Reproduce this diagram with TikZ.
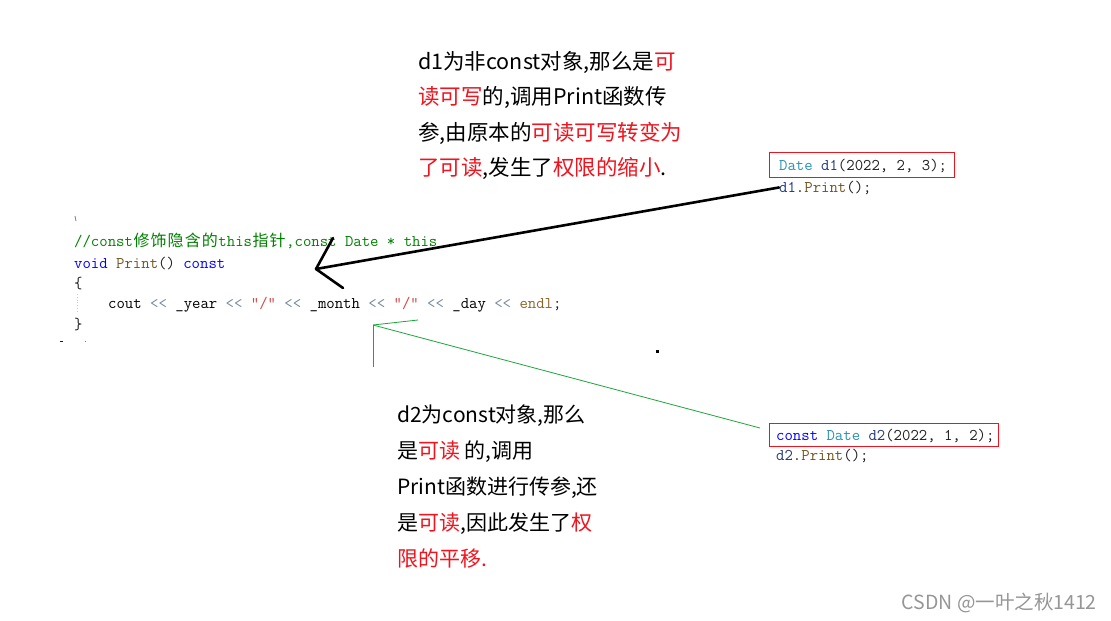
\documentclass[tikz,border=0pt]{standalone}
\usepackage{fontspec}
\newfontfamily\zh{Noto Sans CJK SC}
\newfontfamily\cmzh{Noto Sans CJK SC}
\newcommand\cz[1]{\makebox[17.1pt]{\cmzh\fontsize{16pt}{18pt}\selectfont #1}}
\definecolor{cgreen}{RGB}{0,128,0}
\definecolor{cblue}{RGB}{0,0,255}
\definecolor{cfunc}{RGB}{116,83,31}
\definecolor{cop}{RGB}{120,140,160}
\definecolor{cstr}{RGB}{210,70,70}
\definecolor{cendl}{RGB}{140,100,40}
\definecolor{ctype}{RGB}{43,145,175}
\definecolor{cred}{RGB}{240,20,30}
\definecolor{garrow}{RGB}{30,165,60}
\definecolor{cdark}{RGB}{30,30,30}
\definecolor{cvar}{RGB}{31,55,127}
\definecolor{wmark}{RGB}{150,150,150}
\begin{document}
\begin{tikzpicture}[x=1pt,y=-1pt,
  code/.style={anchor=base west,inner sep=0pt,font=\ttfamily\fontsize{16.3pt}{18pt}\selectfont},
  txt/.style={anchor=base west,inner sep=0pt,font=\zh\fontsize{21.5pt}{24pt}\selectfont},
  txtb/.style={txt,font=\zh\fontsize{21pt}{24pt}\selectfont},
  redbox/.style={draw=cred,line width=1.2pt,inner sep=0pt,anchor=north west},
  blk/.style={line width=2.6pt,line cap=round,line join=round},
  gline/.style={draw=garrow,line width=0.8pt}]
\fill[white] (0,0) rectangle (1111,621);
\useasboundingbox (0,0) rectangle (1111,621);
% top explanation
\node[txt] (t1) at (418,69) {d1为非const对象,那么是\textcolor{cred}{可}};
\node[txt] (t2) at (418,104.5) {\textcolor{cred}{读可写}的,调用Print函数传};
\node[txt] (t3) at (418,140.5) {参,由原本的\textcolor{cred}{可读可写转变为}};
\node[txt] (t4) at (418,175.5) {\textcolor{cred}{了可读},发生了\textcolor{cred}{权限的缩小}.};
% bottom explanation
\node[txtb] (s1) at (397,422) {d2为const对象,那么};
\node[txtb] (s2) at (397,458) {是\textcolor{cred}{可读} 的,调用};
\node[txtb] (s3) at (397,494) {Print函数进行传参,还};
\node[txtb] (s4) at (397,530.5) {是\textcolor{cred}{可读},因此发生了\textcolor{cred}{权}};
\node[txtb] (s5) at (397,566.5) {\textcolor{cred}{限的平移.}};
% left code
\node[code] (c1) at (74,246) {\color{cgreen}//const\cz{修}\cz{饰}\cz{隐}\cz{含}\cz{的}this\cz{指}\cz{针},const Date * this};
\node[code] (c2) at (74,268) {\color{cblue}void \color{cfunc}Print\color{cdark}() \color{cblue}const};
\node[code] (c3) at (74,288) {\color{cdark}\{};
\node[code] (c4) at (108,308.5) {\color{black}cout \color{cop}<< \color{black}\_year \color{cop}<< \color{cstr}"/" \color{cop}<< \color{black}\_month \color{cop}<< \color{cstr}"/" \color{cop}<< \color{black}\_day \color{cop}<< \color{cendl}endl\color{cdark};};
\node[code] (c5) at (74,329) {\color{cdark}\}};
\draw[gray,line width=0.8pt] (75,216) -- (76,221);
\draw[gray!40,dotted,line width=0.8pt] (77,294) -- (77,312);
\draw[cblue,line width=0.8pt] (60,341) -- (63,341);
\fill[gray] (84.5,340.5) rectangle ++(1,1);
% right code, d1
\node[code] (d1a) at (779,170) {\color{ctype}Date \color{cvar}d1\color{cdark}(2022, 2, 3);};
\node[code] (d1b) at (779,192) {\color{cvar}d1\color{cdark}.\color{cfunc}Print\color{cdark}();};
\node[redbox,minimum width=185pt,minimum height=25pt] (b1) at (769,152) {};
% right code, d2
\node[code] (d2a) at (776,440) {\color{cblue}const \color{ctype}Date \color{cvar}d2\color{cdark}(2022, 1, 2);};
\node[code] (d2b) at (776,460) {\color{cvar}d2\color{cdark}.\color{cfunc}Print\color{cdark}();};
\node[redbox,minimum width=229pt,minimum height=23pt] (b2) at (769,423) {};
% black arrow
\coordinate (tip) at (316,269);
\draw[blk] (d1b.west) -- (tip);
\draw[blk] (tip) -- ++(17,-31);
\draw[blk] (tip) -- ++(27,19);
% green lines
\coordinate (g0) at (373,325);
\coordinate (g1) at (418,320);
\coordinate (g2) at (373,367);
\coordinate (g3) at (760,428);
\draw[gline] (g0) -- (g1);
\draw[gline] (g0) -- (g2);
\draw[gline] (g0) -- (g3);
% dot
\fill[black] (655.5,349.5) rectangle ++(3,3);
% watermark
\node[anchor=base east,inner sep=0pt,text=wmark,font=\zh\fontsize{19.5pt}{20pt}\selectfont] (wm) at (1097,609) {CSDN @一叶之秋1412};
\end{tikzpicture}
\end{document}
